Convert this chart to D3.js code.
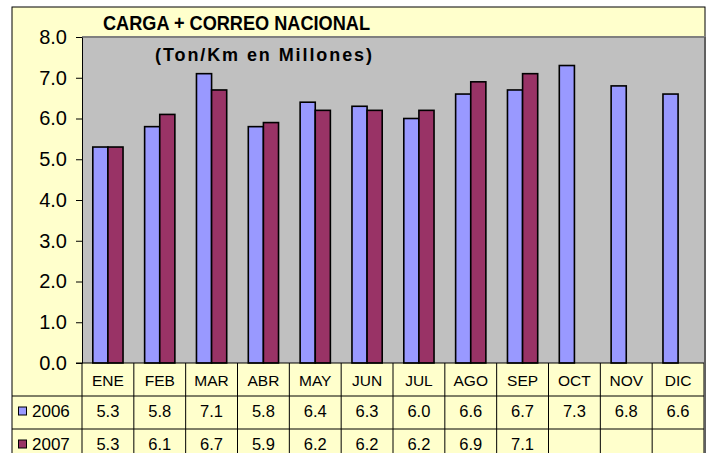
<!DOCTYPE html>
<html>
<head>
<meta charset="utf-8">
<script src="https://cdn.jsdelivr.net/npm/d3@7"></script>
<style>
  body { margin: 0; background: #fff; }
  svg { display: block; font-family: "Liberation Sans", Arial, sans-serif; }
</style>
</head>
<body>
<svg id="chart" width="712" height="453"></svg>
<script>
// data
const months = ["ENE", "FEB", "MAR", "ABR", "MAY", "JUN", "JUL", "AGO", "SEP", "OCT", "NOV", "DIC"];
const seriesNames = ["2006", "2007"];
const values2006 = [5.3, 5.8, 7.1, 5.8, 6.4, 6.3, 6.0, 6.6, 6.7, 7.3, 6.8, 6.6];
const values2007 = [5.3, 6.1, 6.7, 5.9, 6.2, 6.2, 6.2, 6.9, 7.1, null, null, null];
const yTicks = [0, 1, 2, 3, 4, 5, 6, 7, 8];
const colors = { "2006": "#9999FF", "2007": "#993366" };

const svg = d3.select("#chart");

// layout of the excel-like chart
const plot = { left: 82, right: 704, top: 37, bottom: 363 };
const rowH = 33;
const chartBox = { left: 12, top: 7, right: 705 };

// chart background
svg.append("rect")
  .attr("x", chartBox.left).attr("y", chartBox.top)
  .attr("width", chartBox.right - chartBox.left).attr("height", 470)
  .attr("fill", "#FFFFCC").attr("stroke", "#000").attr("stroke-width", 1);

// plot area
svg.append("rect")
  .attr("x", plot.left).attr("y", plot.top)
  .attr("width", plot.right - plot.left).attr("height", plot.bottom - plot.top)
  .attr("fill", "#C0C0C0");
svg.append("path")
  .attr("d", `M${plot.left},${plot.top}H${plot.right + 1}V${plot.bottom}`)
  .attr("fill", "none").attr("stroke", "#808080").attr("stroke-width", 2);

const x0 = d3.scaleBand().domain(months).range([plot.left, plot.right]).padding(0);
const step = x0.bandwidth();
const x1 = d3.scaleBand().domain(seriesNames).range([10.8, step - 10.8]).padding(0);

const y = d3.scaleLinear().domain([0, 8]).range([plot.bottom, plot.top]);

// y axis
const yAxis = svg.append("g")
  .attr("transform", `translate(${plot.left},0)`)
  .call(d3.axisLeft(y).tickValues(yTicks).tickFormat(d3.format(".1f")).tickSize(6).tickSizeOuter(0));
yAxis.select(".domain").attr("stroke", "#000");
yAxis.selectAll(".tick line").attr("stroke", "#000");
yAxis.selectAll(".tick text")
  .attr("x", -15)
  .attr("font-size", 20)
  .attr("font-family", "Liberation Sans, Arial, sans-serif")
  .attr("fill", "#000");

// bars
const seriesData = seriesNames.map(s => ({
  name: s,
  values: s === "2006" ? values2006 : values2007
}));

seriesData.forEach(s => {
  svg.append("g").selectAll("rect")
    .data(months.map((m, i) => ({ m, v: s.values[i] })).filter(d => d.v != null))
    .join("rect")
    .attr("x", d => x0(d.m) + x1(s.name))
    .attr("y", d => y(d.v))
    .attr("width", x1.bandwidth())
    .attr("height", d => y(0) - y(d.v))
    .attr("fill", colors[s.name])
    .attr("stroke", "#000")
    .attr("stroke-width", 1.6);
});

// x axis line
svg.append("line")
  .attr("x1", plot.left - 6).attr("x2", plot.right)
  .attr("y1", plot.bottom).attr("y2", plot.bottom)
  .attr("stroke", "#000");

// data table
const tableTop = plot.bottom;
const rowTops = [tableTop, tableTop + rowH, tableTop + 2 * rowH];
const lines = svg.append("g").attr("stroke", "#000").attr("stroke-width", 1);

// horizontal lines for the value rows
[rowTops[1], rowTops[2]].forEach(yy => {
  lines.append("line")
    .attr("x1", chartBox.left).attr("x2", plot.right)
    .attr("y1", yy).attr("y2", yy);
});
// vertical lines
months.forEach(m => {
  lines.append("line")
    .attr("x1", x0(m)).attr("x2", x0(m))
    .attr("y1", tableTop).attr("y2", 460);
});
lines.append("line")
  .attr("x1", plot.right).attr("x2", plot.right)
  .attr("y1", tableTop).attr("y2", 460);

// category labels
svg.append("g").selectAll("text")
  .data(months)
  .join("text")
  .attr("x", d => x0(d) + step / 2)
  .attr("y", rowTops[0] + rowH / 2 + 1)
  .attr("dy", "0.35em")
  .attr("text-anchor", "middle")
  .attr("font-size", 15.5)
  .text(d => d);

// value rows
seriesData.forEach((s, si) => {
  const top = rowTops[si + 1];
  svg.append("g").selectAll("text")
    .data(months.map((m, i) => ({ m, v: s.values[i] })).filter(d => d.v != null))
    .join("text")
    .attr("x", d => x0(d.m) + step / 2)
    .attr("y", top + rowH / 2 - 1)
    .attr("dy", "0.35em")
    .attr("text-anchor", "middle")
    .attr("font-size", 16.5)
    .text(d => d3.format(".1f")(d.v));

  // legend key
  svg.append("rect")
    .attr("x", 18.5).attr("y", top + rowH / 2 - 5.5)
    .attr("width", 8).attr("height", 8)
    .attr("fill", colors[s.name]).attr("stroke", "#000");
  svg.append("text")
    .attr("x", 32).attr("y", top + rowH / 2 - 1)
    .attr("dy", "0.35em")
    .attr("font-size", 17)
    .text(s.name);
});

// right edge shadow
svg.append("line")
  .attr("x1", chartBox.right).attr("x2", chartBox.right)
  .attr("y1", plot.top).attr("y2", 453)
  .attr("stroke", "#606060").attr("stroke-width", 2);

// titles
svg.append("text")
  .attr("x", 103).attr("y", 30)
  .attr("font-size", 19.5).attr("font-weight", "bold")
  .attr("textLength", 267).attr("lengthAdjust", "spacingAndGlyphs")
  .text("CARGA + CORREO NACIONAL");
svg.append("text")
  .attr("x", 155).attr("y", 61)
  .attr("font-size", 18).attr("font-weight", "bold")
  .attr("textLength", 217).attr("lengthAdjust", "spacing")
  .text("(Ton/Km en Millones)");
</script>
</body>
</html>
